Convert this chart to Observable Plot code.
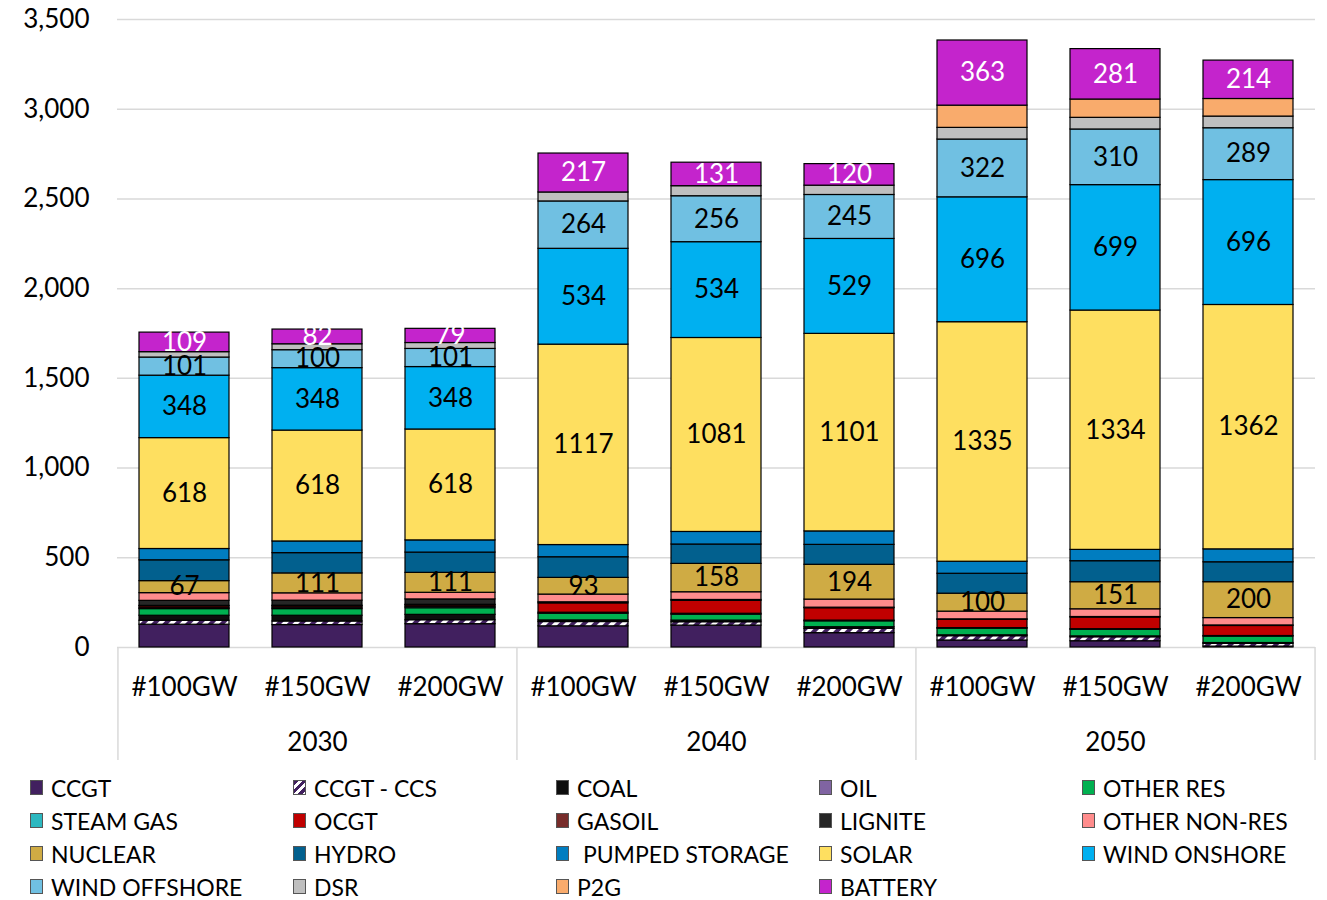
<!DOCTYPE html>
<html>
<head>
<meta charset="utf-8">
<script src="https://cdn.jsdelivr.net/npm/d3@7"></script>
<script src="https://cdn.jsdelivr.net/npm/@observablehq/plot@0.6"></script>
<style>
  body { margin: 0; background: #fff; font-family: Lato, "Open Sans", sans-serif; }
  #legend { display: grid; grid-template-columns: repeat(5, 263px); grid-auto-rows: 33px; padding: 6px 0 0 30px; }
  .item { display: flex; align-items: center; font-size: 23px; color: #000; white-space: nowrap; }
  .sw { width: 13px; height: 15px; border: 1px solid #555; margin-right: 8px; box-sizing: border-box; flex: none; }
</style>
</head>
<body>
<div id="chart"></div>
<div id="legend"></div>
<script>
// ---- data ----
const years = ["2030", "2040", "2050"];
const scenarios = ["#100GW", "#150GW", "#200GW"];
const yTicks = [0, 500, 1000, 1500, 2000, 2500, 3000, 3500];

const series = ["CCGT", "CCGT - CCS", "COAL", "OIL", "OTHER RES", "STEAM GAS", "OCGT", "GASOIL", "LIGNITE",
  "OTHER NON-RES", "NUCLEAR", "HYDRO", " PUMPED STORAGE", "SOLAR", "WIND ONSHORE", "WIND OFFSHORE", "DSR", "P2G", "BATTERY"];
const colors = ["#41205f", "url(#ccsHatch)", "#0d0d0d", "#8064a2", "#00b050", "#2cb8c0", "#c00000", "#772c2a", "#262626",
  "#ff8c8c", "#cfab44", "#02608e", "#007dc0", "#fedf60", "#00b0f0", "#70c0e2", "#bfbfbf", "#f9ab6c", "#c424cc"];

// values per scenario: 2030 #100/#150/#200, 2040 #100/#150/#200, 2050 #100/#150/#200
const ccgt          = [127, 125, 130, 118, 122, 80, 39, 35, 5];
const ccgtCcs       = [22, 20, 22, 24, 19, 24, 24, 22, 15];
const coal          = [28, 32, 30, 9, 9, 9, 5, 5, 5];
const oil           = [0, 0, 0, 0, 0, 0, 0, 0, 0];
const otherRes      = [37, 37, 37, 37, 33, 33, 37, 37, 36];
const steamGas      = [5, 8, 8, 6, 5, 4, 3, 3, 3];
const ocgt          = [10, 8, 8, 52, 72, 69, 46, 65, 56];
const gasoil        = [3, 3, 3, 0, 0, 0, 0, 0, 0];
const lignite       = [28, 28, 30, 6, 5, 3, 3, 3, 3];
const otherNonRes   = [43, 41, 37, 43, 43, 45, 43, 43, 41];
const nuclear       = [67, 111, 111, 93, 158, 194, 100, 151, 200];
const hydro         = [116, 113, 113, 115, 108, 111, 111, 117, 111];
const pumped        = [63, 65, 68, 68, 70, 75, 67, 63, 72];
const solar         = [618, 618, 618, 1117, 1081, 1101, 1335, 1334, 1362];
const windOnshore   = [348, 348, 348, 534, 534, 529, 696, 699, 696];
const windOffshore  = [101, 100, 101, 264, 256, 245, 322, 310, 289];
const dsr           = [30, 33, 33, 50, 56, 52, 65, 65, 65];
const p2g           = [0, 0, 0, 0, 0, 0, 124, 102, 98];
const battery       = [109, 82, 79, 217, 131, 120, 363, 281, 214];

const seriesValues = [ccgt, ccgtCcs, coal, oil, otherRes, steamGas, ocgt, gasoil, lignite, otherNonRes,
  nuclear, hydro, pumped, solar, windOnshore, windOffshore, dsr, p2g, battery];
const labelledBlack = ["NUCLEAR", "SOLAR", "WIND ONSHORE", "WIND OFFSHORE"];
const labelledWhite = ["BATTERY"];

// ---- build table ----
const keys = years.flatMap(y => scenarios.map(s => `${y}|${s}`));
const rows = [];
series.forEach((s, si) => keys.forEach((k, i) => rows.push({key: k, series: s, value: seriesValues[si][i]})));

const W = 1327, H = 765, mL = 117, mR = 12, mT = 19, mB = 118;
const step = (W - mL - mR) / keys.length;
const font = "Lato, 'Open Sans', sans-serif";

const svg = Plot.plot({
  width: W, height: H,
  marginTop: mT, marginBottom: mB, marginLeft: mL, marginRight: mR,
  style: {fontFamily: font, fontSize: "26px", color: "#000", background: "#fff"},
  x: {domain: keys, paddingInner: 0.325, paddingOuter: 0.1625, label: null},
  y: {domain: [0, 3500], label: null},
  color: {domain: series, range: colors},
  marks: [
    Plot.gridY(yTicks, {stroke: "#d9d9d9", strokeOpacity: 1, strokeWidth: 1.5}),
    Plot.axisY(yTicks, {tickSize: 0, tickPadding: 28, tickFormat: d3.format(","), fontSize: 26, label: null}),
    Plot.axisX({tickSize: 0, tickPadding: 30, tickFormat: k => k.split("|")[1], fontSize: 26, label: null}),
    Plot.ruleX(years, {x: y => `${y}|${scenarios[0]}`, dx: -step / 2, stroke: "#d9d9d9", strokeWidth: 1.5,
      insetTop: H - mT - mB, insetBottom: -113}),
    Plot.ruleX(years.slice(-1), {x: y => `${y}|${scenarios[2]}`, dx: step / 2, stroke: "#d9d9d9", strokeWidth: 1.5,
      insetTop: H - mT - mB, insetBottom: -113}),
    Plot.text(years, {x: y => `${y}|${scenarios[1]}`, text: d => d, frameAnchor: "bottom", lineAnchor: "middle",
      dy: 95, fontSize: 26}),
    Plot.barY(rows, {x: "key", y: "value", z: "series", fill: "series", order: series,
      stroke: "#000", strokeWidth: 1.2}),
    Plot.text(rows, Plot.stackY({x: "key", y: "value", z: "series", order: series,
      text: d => labelledBlack.includes(d.series) ? String(d.value) : "", fill: "#000", fontSize: 26})),
    Plot.text(rows, Plot.stackY({x: "key", y: "value", z: "series", order: series,
      text: d => labelledWhite.includes(d.series) ? String(d.value) : "", fill: "#fff", fontSize: 26}))
  ]
});

const ns = "http://www.w3.org/2000/svg";
const defs = document.createElementNS(ns, "defs");
defs.innerHTML = `<pattern id="ccsHatch" patternUnits="userSpaceOnUse" width="8" height="8" patternTransform="rotate(45)">
  <rect width="8" height="8" fill="#41205f"/><rect width="4" height="8" fill="#ffffff"/></pattern>`;
svg.insertBefore(defs, svg.firstChild);
document.getElementById("chart").appendChild(svg);

// ---- legend ----
const legend = document.getElementById("legend");
series.forEach((s, i) => {
  const item = document.createElement("div");
  item.className = "item";
  const sw = document.createElement("span");
  sw.className = "sw";
  sw.style.background = colors[i].startsWith("url")
    ? "repeating-linear-gradient(135deg, #41205f 0 3px, #fff 3px 6px)"
    : colors[i];
  const t = document.createElement("span");
  t.textContent = s;
  t.style.whiteSpace = "pre";
  item.appendChild(sw);
  item.appendChild(t);
  legend.appendChild(item);
});
</script>
</body>
</html>
